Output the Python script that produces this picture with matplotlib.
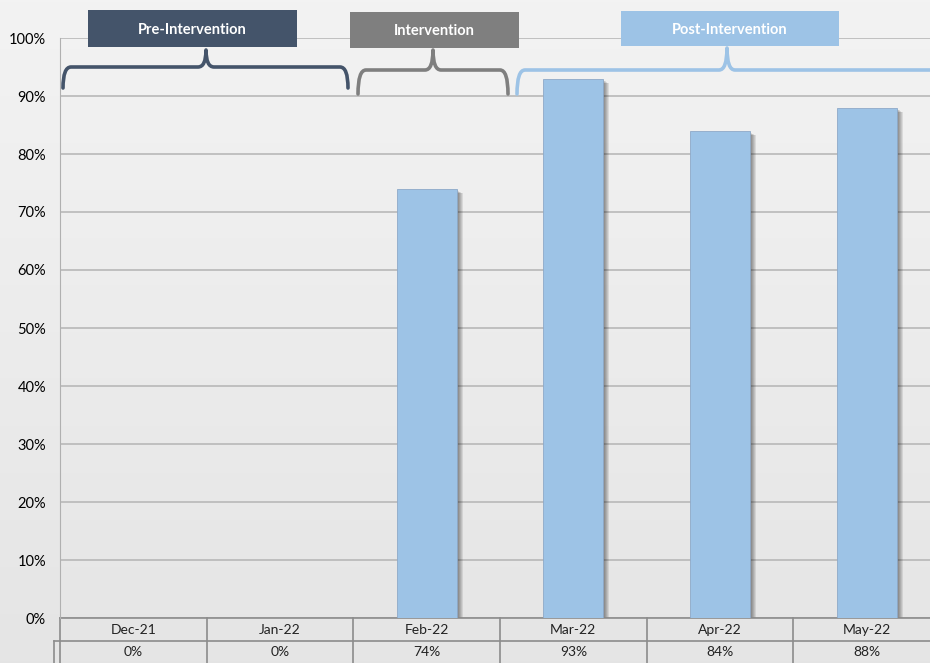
import numpy as np
import matplotlib
matplotlib.use('Agg')
import matplotlib.pyplot as plt
from matplotlib.patches import Rectangle, PathPatch
from matplotlib.path import Path

# chart data
months = ['Dec-21', 'Jan-22', 'Feb-22', 'Mar-22', 'Apr-22', 'May-22']
rates = [0.0, 0.0, 0.74, 0.93, 0.84, 0.88]
phases = ['Pre-Intervention', 'Intervention', 'Post-Intervention']

plt.rcParams['font.family'] = ['Lato', 'DejaVu Sans']

W, H = 930, 663
fig = plt.figure(figsize=(W / 100, H / 100), dpi=100)


def px(x, y):
    # image pixel coords -> figure fraction
    return x / W, 1 - y / H


# background gradient
bg = fig.add_axes([0, 0, 1, 1], zorder=-10)
grad = np.linspace(0, 1, 256).reshape(-1, 1)
top = np.array([0.953, 0.953, 0.953])
bot = np.array([0.898, 0.898, 0.898])
img = top + (bot - top) * grad[:, :, None]
bg.imshow(img, aspect='auto', extent=[0, 1, 0, 1])
bg.axis('off')

# main axes: 0% at y=618, 100% at y=38, left x=60, right x=940 (cropped)
left, bottom = px(60, 618)
ax = fig.add_axes([left, bottom, 880 / W, 580 / H])
ax.set_facecolor('none')
ax.set_xlim(0, len(months))
ax.set_ylim(0, 1)
ax.set_yticks(np.arange(0, 1.01, 0.1))
ax.set_yticklabels([f'{int(round(v * 100))}%' for v in np.arange(0, 1.01, 0.1)], fontsize=10.5)
ax.yaxis.grid(True, color='#b8b8b8', linewidth=1.2)
ax.set_axisbelow(True)
ax.tick_params(axis='y', length=0, pad=10)
ax.set_xticks([])
for s in ['top', 'right', 'bottom']:
    ax.spines[s].set_visible(False)
ax.spines['left'].set_color('#b0b0b0')

xpos = np.arange(len(months)) + 0.5
bw = 0.41
dx, dy = 1 / 146.7, 1 / 580
# soft shadow on the right of each bar
for x, v in zip(xpos, rates):
    if v <= 0:
        continue
    for k in range(1, 7):
        ax.add_patch(Rectangle((x - bw / 2 + k * dx, 0), bw, v - (k * 0.6 + 1) * dy,
                               facecolor='black', edgecolor='none', alpha=0.09, zorder=2))
ax.bar(xpos, rates, width=bw, color='#9dc3e6', edgecolor='#8ea9c8', linewidth=0.6, zorder=3)

# data table under the axis
r = 23 / 580
tc = '#8c8c8c'
ax.plot([0, len(months)], [0, 0], color=tc, lw=1.2, clip_on=False)
ax.plot([-6 / 146.7, len(months)], [-r, -r], color=tc, lw=1.2, clip_on=False)
for i in range(len(months) + 1):
    ax.plot([i, i], [0, -2.2 * r], color=tc, lw=1.2, clip_on=False)
ax.plot([-6 / 146.7, -6 / 146.7], [-r, -2.2 * r], color=tc, lw=1.2, clip_on=False)
for x, m, v in zip(xpos, months, rates):
    ax.text(x, -r / 2, m, ha='center', va='center', fontsize=10, color='#222222')
    ax.text(x, -1.5 * r, f'{int(round(v * 100))}%', ha='center', va='center', fontsize=10, color='#222222')


# phase brackets
def bracket(x0, x1, xm, ytop, ybot, ytip, color):
    c = 8
    verts = [px(x0, ybot), px(x0, ytop), px(x0 + c, ytop),
             px(xm - c, ytop), px(xm, ytop), px(xm, ytip),
             px(xm, ytop), px(xm + c, ytop),
             px(x1 - c, ytop), px(x1, ytop), px(x1, ybot)]
    codes = [Path.MOVETO, Path.CURVE3, Path.CURVE3,
             Path.LINETO, Path.CURVE3, Path.CURVE3,
             Path.CURVE3, Path.CURVE3,
             Path.LINETO, Path.CURVE3, Path.CURVE3]
    p = PathPatch(Path(verts, codes), transform=fig.transFigure, facecolor='none',
                  edgecolor=color, lw=2.6, capstyle='round', joinstyle='round')
    fig.patches.append(p)


def label_box(x0, x1, y0, y1, text, color):
    bx, by = px(x0, y1)
    fig.patches.append(Rectangle((bx, by), (x1 - x0) / W, (y1 - y0) / H, transform=fig.transFigure,
                                 facecolor=color, edgecolor='none'))
    cx, cy = px((x0 + x1) / 2, (y0 + y1) / 2 + 1)
    fig.text(cx, cy, text, ha='center', va='center', color='white', fontsize=10.5, fontweight='bold')


bracket(63, 348, 206, 67, 88, 50, '#44546a')
bracket(358, 508, 433, 70, 94, 50, '#7f7f7f')
bracket(517, 1200, 727, 70, 94, 48, '#9dc3e6')

label_box(88, 297, 10, 47, phases[0], '#44546a')
label_box(350, 519, 12, 48, phases[1], '#7f7f7f')
label_box(621, 839, 11, 46, phases[2], '#9dc3e6')

fig.savefig('out.png', dpi=100)
